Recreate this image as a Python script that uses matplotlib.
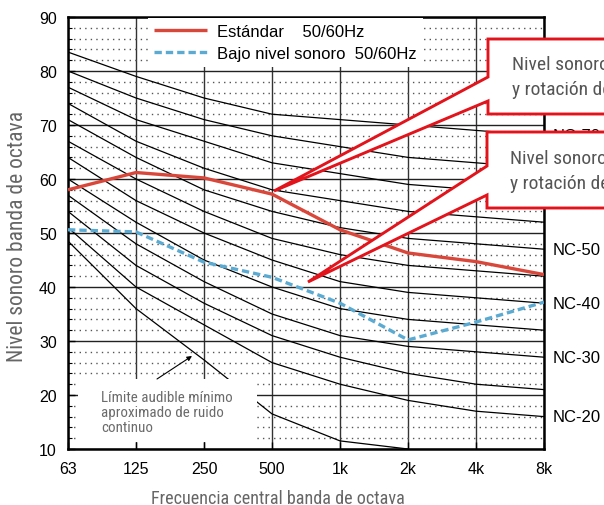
import matplotlib
matplotlib.use('Agg')
import matplotlib.pyplot as plt
import matplotlib.transforms as mtrans
from matplotlib.patches import Polygon, Rectangle
from matplotlib.lines import Line2D
from matplotlib.ticker import MultipleLocator, FixedLocator
import numpy as np

# ---------------- data ----------------
freq_labels = ['63', '125', '250', '500', '1k', '2k', '4k', '8k']

nc20 = [51, 40, 33, 26, 22, 19, 17, 16]
nc25 = [54, 44, 37, 31, 27, 24, 22, 21]
nc30 = [57, 48, 41, 35, 31, 29, 28, 27]
nc35 = [60, 52, 45, 40, 36, 34, 33, 32]
nc40 = [64, 56, 50, 45, 41, 39, 38, 37]
nc45 = [67, 60, 54, 49, 46, 44, 43, 42]
nc50 = [71, 64, 58, 54, 51, 49, 48, 47]
nc55 = [74, 67, 62, 58, 56, 54, 53, 52]
nc60 = [77, 71, 67, 63, 61, 59, 58, 57]
nc65 = [80, 75, 71, 68, 66, 64, 63, 62]
nc70 = [83.5, 79, 75, 72, 71, 70, 69, 68]
nc_names = ['NC-20', 'NC-25', 'NC-30', 'NC-35', 'NC-40', 'NC-45',
            'NC-50', 'NC-55', 'NC-60', 'NC-65', 'NC-70']
nc_labeled = ['NC-20', 'NC-30', 'NC-40', 'NC-50', 'NC-60', 'NC-70']

threshold_labels = ['63', '125', '250', '500', '1k', '2k']
threshold = [48.5, 36, 26.5, 16.5, 11.5, 10]

estandar = [58, 61.2, 60.2, 57.2, 50.6, 46.3, 44.7, 42.3]
bajo_nivel = [50.6, 50.2, 44.6, 41.8, 37.0, 30.2, 33.5, 37.2]

y_ticks = [10, 20, 30, 40, 50, 60, 70, 80, 90]

# ---------------- fonts ----------------
MAIN = ['Liberation Sans', 'DejaVu Sans']
NARROW = ['Roboto Condensed', 'Sofia Sans Condensed', 'Encode Sans Condensed',
          'Liberation Sans', 'DejaVu Sans']
plt.rcParams['font.family'] = MAIN

W, H = 604, 506
fig = plt.figure(figsize=(W / 100, H / 100), dpi=100)
px = mtrans.Affine2D().scale(1 / W, -1 / H).translate(0, 1) + fig.transFigure

L, R, T, B = 68, 544, 18, 450
ax = fig.add_axes([L / W, (H - B) / H, (R - L) / W, (B - T) / H])

xpos = np.arange(len(freq_labels))
ax.set_xlim(0, len(freq_labels) - 1)
ax.set_ylim(y_ticks[0], y_ticks[-1])

# grid
ax.xaxis.set_major_locator(FixedLocator(xpos))
ax.set_xticklabels(freq_labels)
ax.yaxis.set_major_locator(FixedLocator(y_ticks))
ax.yaxis.set_minor_locator(MultipleLocator(2))
ax.grid(which='major', axis='y', color='#222222', lw=1.0, ls='-')
ax.grid(which='minor', axis='y', color='#555555', lw=1.0, ls=(0, (1, 3)))
ax.grid(which='major', axis='x', color='#333333', lw=1.0, ls='-')

ax.tick_params(axis='both', which='major', direction='in', length=5, width=1,
               labelsize=11.5, colors='black')
ax.tick_params(axis='y', which='minor', direction='in', length=3, width=0.8)
ax.tick_params(axis='x', pad=9)
ax.tick_params(axis='y', pad=8)
for s in ax.spines.values():
    s.set_linewidth(1.8)
    s.set_color('black')

# NC curves
nc_all = [nc20, nc25, nc30, nc35, nc40, nc45, nc50, nc55, nc60, nc65, nc70]
for name, vals in zip(nc_names, nc_all):
    ax.plot(xpos, vals, color='black', lw=0.9, zorder=2)
    if name in nc_labeled:
        ax.annotate(name, xy=(xpos[-1], vals[-1]), xytext=(6.5, 0),
                    textcoords='offset points', va='center', ha='left',
                    fontsize=12, annotation_clip=False, zorder=2)

# threshold curve
ax.plot(np.arange(len(threshold_labels)), threshold, color='black', lw=0.9, zorder=2)

# data series
l1, = ax.plot(xpos, estandar, color='#d9473b', lw=2.4, zorder=4,
              solid_capstyle='butt')
l2, = ax.plot(xpos, bajo_nivel, color='#5aaad2', lw=2.4, ls=(0, (2.2, 1.2)),
              zorder=4)

# legend
leg = ax.legend([l1, l2], ['Estándar    50/60Hz', 'Bajo nivel sonoro  50/60Hz'],
                loc='upper left', bbox_to_anchor=((148 - L) / (R - L), 0.998),
                borderaxespad=0, frameon=True, fancybox=False, framealpha=1,
                facecolor='white', edgecolor='none', fontsize=12,
                handlelength=3.2, handletextpad=0.6, labelspacing=0.45,
                borderpad=0.35)
leg.set_zorder(6)

# threshold text box (white patch)
ax.add_patch(Rectangle((78, 443), 179, -63, transform=px, facecolor='white',
                       edgecolor='none', zorder=5, clip_on=False))
for i, line in enumerate(['Límite audible mínimo', 'aproximado de ruido', 'continuo']):
    ax.text(101, 398 + i * 15, line, transform=px, family=NARROW,
            fontsize=10.8, color='#6b6b6b', va='center', ha='left', zorder=6)
ax.annotate('', xy=(192, 357), xytext=(157, 380), xycoords=px, textcoords=px,
            arrowprops=dict(arrowstyle='-|>', lw=0.8, color='black',
                            mutation_scale=7, shrinkA=0, shrinkB=0),
            zorder=6, annotation_clip=False)

# callouts
red = '#e3131b'
call1 = [(488, 40), (650, 40), (650, 115), (488, 115), (488, 102), (274, 192), (488, 78)]
call2 = [(487, 133), (650, 133), (650, 209), (487, 209), (487, 196), (308, 283), (487, 167)]
for poly in (call1, call2):
    fig.add_artist(Polygon(poly, closed=True, transform=px, facecolor='white',
                           edgecolor=red, lw=2.1, joinstyle='miter', zorder=5))
for (y1, y2, x0) in ((65, 90, 512), (159, 184, 510)):
    fig.text(x0, y1, 'Nivel sonoro', transform=px, family=NARROW, fontsize=14,
             color='#555555', va='center', ha='left', zorder=6)
    fig.text(x0, y2, 'y rotación de', transform=px, family=NARROW, fontsize=14,
             color='#555555', va='center', ha='left', zorder=6)

# axis titles
fig.text(278, 499, 'Frecuencia central banda de octava', transform=px,
         family=NARROW, fontsize=13.1, color='#666666', ha='center', va='center')
fig.text(18, 236, 'Nivel sonoro banda de octava', transform=px,
         family=NARROW, fontsize=15.5, color='#666666', ha='center', va='center',
         rotation=90)

fig.savefig('out.png', dpi=100)
